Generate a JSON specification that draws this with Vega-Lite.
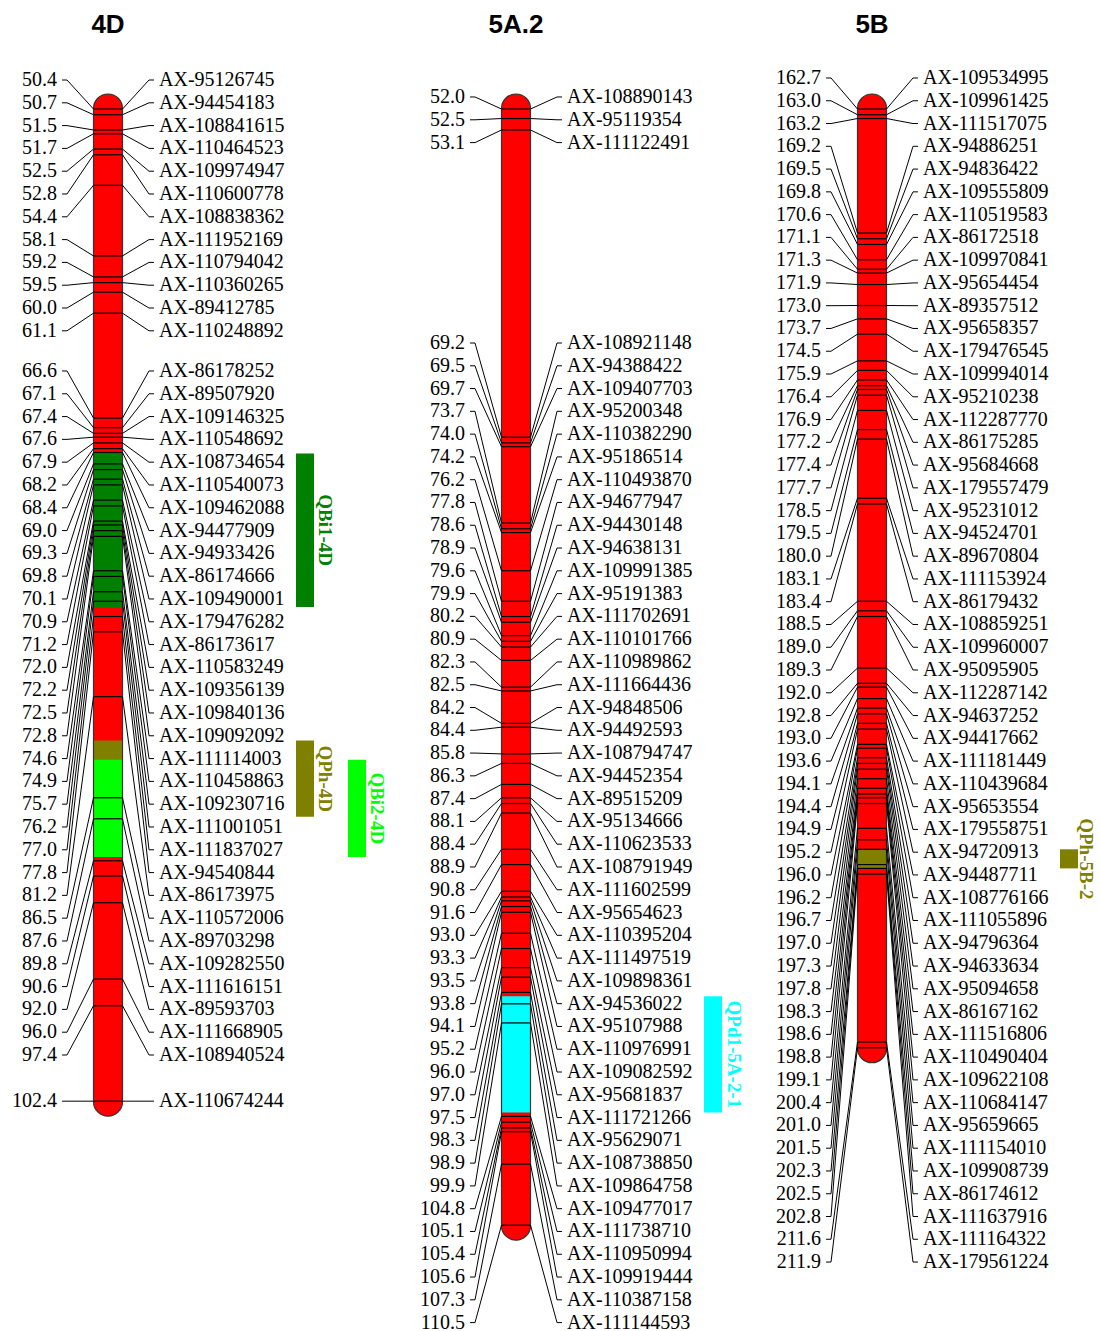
{
"$schema":"https://vega.github.io/schema/vega-lite/v6.json",
"padding":0,"spacing":0,"background":"white",
"config":{"view":{"stroke":null}},
"datasets":{
"markers":[
{"chr":"4D","pos":50.4,"name":"AX-95126745","lp":48.88},
{"chr":"4D","pos":50.7,"name":"AX-94454183","lp":50.075},
{"chr":"4D","pos":51.5,"name":"AX-108841615","lp":51.27},
{"chr":"4D","pos":51.7,"name":"AX-110464523","lp":52.465},
{"chr":"4D","pos":52.5,"name":"AX-109974947","lp":53.66},
{"chr":"4D","pos":52.8,"name":"AX-110600778","lp":54.855},
{"chr":"4D","pos":54.4,"name":"AX-108838362","lp":56.05},
{"chr":"4D","pos":58.1,"name":"AX-111952169","lp":57.245},
{"chr":"4D","pos":59.2,"name":"AX-110794042","lp":58.44},
{"chr":"4D","pos":59.5,"name":"AX-110360265","lp":59.635},
{"chr":"4D","pos":60.0,"name":"AX-89412785","lp":60.83},
{"chr":"4D","pos":61.1,"name":"AX-110248892","lp":62.025},
{"chr":"4D","pos":66.6,"name":"AX-86178252","lp":64.13},
{"chr":"4D","pos":67.1,"name":"AX-89507920","lp":65.325},
{"chr":"4D","pos":67.4,"name":"AX-109146325","lp":66.52},
{"chr":"4D","pos":67.6,"name":"AX-110548692","lp":67.715},
{"chr":"4D","pos":67.9,"name":"AX-108734654","lp":68.91},
{"chr":"4D","pos":68.2,"name":"AX-110540073","lp":70.105},
{"chr":"4D","pos":68.4,"name":"AX-109462088","lp":71.30},
{"chr":"4D","pos":69.0,"name":"AX-94477909","lp":72.495},
{"chr":"4D","pos":69.3,"name":"AX-94933426","lp":73.69},
{"chr":"4D","pos":69.8,"name":"AX-86174666","lp":74.885},
{"chr":"4D","pos":70.1,"name":"AX-109490001","lp":76.08},
{"chr":"4D","pos":70.9,"name":"AX-179476282","lp":77.275},
{"chr":"4D","pos":71.2,"name":"AX-86173617","lp":78.47},
{"chr":"4D","pos":72.0,"name":"AX-110583249","lp":79.665},
{"chr":"4D","pos":72.2,"name":"AX-109356139","lp":80.86},
{"chr":"4D","pos":72.5,"name":"AX-109840136","lp":82.055},
{"chr":"4D","pos":72.8,"name":"AX-109092092","lp":83.25},
{"chr":"4D","pos":74.6,"name":"AX-111114003","lp":84.445},
{"chr":"4D","pos":74.9,"name":"AX-110458863","lp":85.64},
{"chr":"4D","pos":75.7,"name":"AX-109230716","lp":86.835},
{"chr":"4D","pos":76.2,"name":"AX-111001051","lp":88.03},
{"chr":"4D","pos":77.0,"name":"AX-111837027","lp":89.225},
{"chr":"4D","pos":77.8,"name":"AX-94540844","lp":90.42},
{"chr":"4D","pos":81.2,"name":"AX-86173975","lp":91.615},
{"chr":"4D","pos":86.5,"name":"AX-110572006","lp":92.81},
{"chr":"4D","pos":87.6,"name":"AX-89703298","lp":94.005},
{"chr":"4D","pos":89.8,"name":"AX-109282550","lp":95.20},
{"chr":"4D","pos":90.6,"name":"AX-111616151","lp":96.395},
{"chr":"4D","pos":92.0,"name":"AX-89593703","lp":97.59},
{"chr":"4D","pos":96.0,"name":"AX-111668905","lp":98.785},
{"chr":"4D","pos":97.4,"name":"AX-108940524","lp":99.98},
{"chr":"4D","pos":102.4,"name":"AX-110674244","lp":102.4},
{"chr":"5A.2","pos":52.0,"name":"AX-108890143","lp":51.37},
{"chr":"5A.2","pos":52.5,"name":"AX-95119354","lp":52.566},
{"chr":"5A.2","pos":53.1,"name":"AX-111122491","lp":53.761},
{"chr":"5A.2","pos":69.2,"name":"AX-108921148","lp":64.264},
{"chr":"5A.2","pos":69.5,"name":"AX-94388422","lp":65.458},
{"chr":"5A.2","pos":69.7,"name":"AX-109407703","lp":66.652},
{"chr":"5A.2","pos":73.7,"name":"AX-95200348","lp":67.846},
{"chr":"5A.2","pos":74.0,"name":"AX-110382290","lp":69.04},
{"chr":"5A.2","pos":74.2,"name":"AX-95186514","lp":70.234},
{"chr":"5A.2","pos":76.2,"name":"AX-110493870","lp":71.428},
{"chr":"5A.2","pos":77.8,"name":"AX-94677947","lp":72.622},
{"chr":"5A.2","pos":78.6,"name":"AX-94430148","lp":73.816},
{"chr":"5A.2","pos":78.9,"name":"AX-94638131","lp":75.01},
{"chr":"5A.2","pos":79.6,"name":"AX-109991385","lp":76.204},
{"chr":"5A.2","pos":79.9,"name":"AX-95191383","lp":77.398},
{"chr":"5A.2","pos":80.2,"name":"AX-111702691","lp":78.592},
{"chr":"5A.2","pos":80.9,"name":"AX-110101766","lp":79.786},
{"chr":"5A.2","pos":82.3,"name":"AX-110989862","lp":80.98},
{"chr":"5A.2","pos":82.5,"name":"AX-111664436","lp":82.174},
{"chr":"5A.2","pos":84.2,"name":"AX-94848506","lp":83.368},
{"chr":"5A.2","pos":84.4,"name":"AX-94492593","lp":84.562},
{"chr":"5A.2","pos":85.8,"name":"AX-108794747","lp":85.756},
{"chr":"5A.2","pos":86.3,"name":"AX-94452354","lp":86.95},
{"chr":"5A.2","pos":87.4,"name":"AX-89515209","lp":88.144},
{"chr":"5A.2","pos":88.1,"name":"AX-95134666","lp":89.338},
{"chr":"5A.2","pos":88.4,"name":"AX-110623533","lp":90.532},
{"chr":"5A.2","pos":88.9,"name":"AX-108791949","lp":91.726},
{"chr":"5A.2","pos":90.8,"name":"AX-111602599","lp":92.92},
{"chr":"5A.2","pos":91.6,"name":"AX-95654623","lp":94.114},
{"chr":"5A.2","pos":93.0,"name":"AX-110395204","lp":95.308},
{"chr":"5A.2","pos":93.3,"name":"AX-111497519","lp":96.502},
{"chr":"5A.2","pos":93.5,"name":"AX-109898361","lp":97.696},
{"chr":"5A.2","pos":93.8,"name":"AX-94536022","lp":98.89},
{"chr":"5A.2","pos":94.1,"name":"AX-95107988","lp":100.084},
{"chr":"5A.2","pos":95.2,"name":"AX-110976991","lp":101.278},
{"chr":"5A.2","pos":96.0,"name":"AX-109082592","lp":102.472},
{"chr":"5A.2","pos":97.0,"name":"AX-95681837","lp":103.666},
{"chr":"5A.2","pos":97.5,"name":"AX-111721266","lp":104.86},
{"chr":"5A.2","pos":98.3,"name":"AX-95629071","lp":106.054},
{"chr":"5A.2","pos":98.9,"name":"AX-108738850","lp":107.248},
{"chr":"5A.2","pos":99.9,"name":"AX-109864758","lp":108.442},
{"chr":"5A.2","pos":104.8,"name":"AX-109477017","lp":109.636},
{"chr":"5A.2","pos":105.1,"name":"AX-111738710","lp":110.83},
{"chr":"5A.2","pos":105.4,"name":"AX-110950994","lp":112.024},
{"chr":"5A.2","pos":105.6,"name":"AX-109919444","lp":113.218},
{"chr":"5A.2","pos":107.3,"name":"AX-110387158","lp":114.412},
{"chr":"5A.2","pos":110.5,"name":"AX-111144593","lp":115.606},
{"chr":"5B","pos":162.7,"name":"AX-109534995","lp":161.075},
{"chr":"5B","pos":163.0,"name":"AX-109961425","lp":162.268},
{"chr":"5B","pos":163.2,"name":"AX-111517075","lp":163.462},
{"chr":"5B","pos":169.2,"name":"AX-94886251","lp":164.655},
{"chr":"5B","pos":169.5,"name":"AX-94836422","lp":165.849},
{"chr":"5B","pos":169.8,"name":"AX-109555809","lp":167.042},
{"chr":"5B","pos":170.6,"name":"AX-110519583","lp":168.235},
{"chr":"5B","pos":171.1,"name":"AX-86172518","lp":169.429},
{"chr":"5B","pos":171.3,"name":"AX-109970841","lp":170.622},
{"chr":"5B","pos":171.9,"name":"AX-95654454","lp":171.816},
{"chr":"5B","pos":173.0,"name":"AX-89357512","lp":173.009},
{"chr":"5B","pos":173.7,"name":"AX-95658357","lp":174.202},
{"chr":"5B","pos":174.5,"name":"AX-179476545","lp":175.396},
{"chr":"5B","pos":175.9,"name":"AX-109994014","lp":176.589},
{"chr":"5B","pos":176.4,"name":"AX-95210238","lp":177.783},
{"chr":"5B","pos":176.9,"name":"AX-112287770","lp":178.976},
{"chr":"5B","pos":177.2,"name":"AX-86175285","lp":180.169},
{"chr":"5B","pos":177.4,"name":"AX-95684668","lp":181.363},
{"chr":"5B","pos":177.7,"name":"AX-179557479","lp":182.556},
{"chr":"5B","pos":178.5,"name":"AX-95231012","lp":183.750},
{"chr":"5B","pos":179.5,"name":"AX-94524701","lp":184.943},
{"chr":"5B","pos":180.0,"name":"AX-89670804","lp":186.136},
{"chr":"5B","pos":183.1,"name":"AX-111153924","lp":187.330},
{"chr":"5B","pos":183.4,"name":"AX-86179432","lp":188.523},
{"chr":"5B","pos":188.5,"name":"AX-108859251","lp":189.717},
{"chr":"5B","pos":189.0,"name":"AX-109960007","lp":190.910},
{"chr":"5B","pos":189.3,"name":"AX-95095905","lp":192.103},
{"chr":"5B","pos":192.0,"name":"AX-112287142","lp":193.297},
{"chr":"5B","pos":192.8,"name":"AX-94637252","lp":194.490},
{"chr":"5B","pos":193.0,"name":"AX-94417662","lp":195.684},
{"chr":"5B","pos":193.6,"name":"AX-111181449","lp":196.877},
{"chr":"5B","pos":194.1,"name":"AX-110439684","lp":198.070},
{"chr":"5B","pos":194.4,"name":"AX-95653554","lp":199.264},
{"chr":"5B","pos":194.9,"name":"AX-179558751","lp":200.457},
{"chr":"5B","pos":195.2,"name":"AX-94720913","lp":201.651},
{"chr":"5B","pos":196.0,"name":"AX-94487711","lp":202.844},
{"chr":"5B","pos":196.2,"name":"AX-108776166","lp":204.037},
{"chr":"5B","pos":196.7,"name":"AX-111055896","lp":205.231},
{"chr":"5B","pos":197.0,"name":"AX-94796364","lp":206.424},
{"chr":"5B","pos":197.3,"name":"AX-94633634","lp":207.618},
{"chr":"5B","pos":197.8,"name":"AX-95094658","lp":208.811},
{"chr":"5B","pos":198.3,"name":"AX-86167162","lp":210.004},
{"chr":"5B","pos":198.6,"name":"AX-111516806","lp":211.198},
{"chr":"5B","pos":198.8,"name":"AX-110490404","lp":212.391},
{"chr":"5B","pos":199.1,"name":"AX-109622108","lp":213.585},
{"chr":"5B","pos":200.4,"name":"AX-110684147","lp":214.778},
{"chr":"5B","pos":201.0,"name":"AX-95659665","lp":215.971},
{"chr":"5B","pos":201.5,"name":"AX-111154010","lp":217.165},
{"chr":"5B","pos":202.3,"name":"AX-109908739","lp":218.358},
{"chr":"5B","pos":202.5,"name":"AX-86174612","lp":219.552},
{"chr":"5B","pos":202.8,"name":"AX-111637916","lp":220.745},
{"chr":"5B","pos":211.6,"name":"AX-111164322","lp":221.938},
{"chr":"5B","pos":211.9,"name":"AX-179561224","lp":223.132}
],
"qtl":[
{"chr":"4D","qtl":"QBi1-4D","from":68.45,"to":76.5,"lane":1},
{"chr":"4D","qtl":"QPh-4D","from":83.5,"to":87.5,"lane":1},
{"chr":"4D","qtl":"QBi2-4D","from":84.5,"to":89.6,"lane":2},
{"chr":"5A.2","qtl":"QPd1-5A-2-1","from":98.5,"to":104.6,"lane":1},
{"chr":"5B","qtl":"QPh-5B-2","from":201.5,"to":202.5,"lane":1}
]
},
"hconcat":[
{
"width":400,"height":1331,
"data":{"name":"markers"},
"transform":[{"filter":"datum.chr === '4D'"}],
"layer":[
{"transform":[{"aggregate":[{"op":"min","field":"pos","as":"lo"},{"op":"max","field":"pos","as":"hi"}],"groupby":["chr"]}],
 "mark":{"type":"rect","fill":"#ff0000","cornerRadius":14.5,"yOffset":-15,"y2Offset":15},
 "encoding":{"x":{"datum":-14.5,"type":"quantitative","scale":{"domain":[-108,292]},"axis":null},"x2":{"datum":14.5},
 "y":{"field":"lo","type":"quantitative","scale":{"domain":[44.687,114.446],"reverse":true,"nice":false,"zero":false},"axis":null},"y2":{"field":"hi"}}},
{"data":{"name":"qtl"},"transform":[{"filter":"datum.chr === '4D'"}],
 "mark":{"type":"rect"},
 "encoding":{"x":{"datum":-14.5,"type":"quantitative","scale":{"domain":[-108,292]},"axis":null},"x2":{"datum":14.5},
 "y":{"field":"from","type":"quantitative","scale":{"domain":[44.687,114.446],"reverse":true,"nice":false,"zero":false},"axis":null},"y2":{"field":"to"},
 "color":{"field":"qtl","type":"nominal","scale":{"domain":["QBi1-4D","QPh-4D","QBi2-4D","QPd1-5A-2-1","QPh-5B-2"],"range":["#008000","#808000","#00ff00","#00ffff","#808000"]},"legend":null}}},
{"mark":{"type":"rule","color":"#000000","strokeWidth":1.2},
 "encoding":{"x":{"datum":-14.5,"type":"quantitative","scale":{"domain":[-108,292]},"axis":null},"x2":{"datum":14.5},
 "y":{"field":"pos","type":"quantitative","scale":{"domain":[44.687,114.446],"reverse":true,"nice":false,"zero":false},"axis":null}}},
{"transform":[{"aggregate":[{"op":"min","field":"pos","as":"lo"},{"op":"max","field":"pos","as":"hi"}],"groupby":["chr"]}],
 "mark":{"type":"rect","fillOpacity":0,"stroke":"#333333","strokeWidth":1.2,"cornerRadius":14.5,"yOffset":-15,"y2Offset":15},
 "encoding":{"x":{"datum":-14.5,"type":"quantitative","scale":{"domain":[-108,292]},"axis":null},"x2":{"datum":14.5},
 "y":{"field":"lo","type":"quantitative","scale":{"domain":[44.687,114.446],"reverse":true,"nice":false,"zero":false},"axis":null},"y2":{"field":"hi"}}},
{"mark":{"type":"rule","color":"#000000","strokeWidth":1},
 "encoding":{"x":{"datum":-46,"type":"quantitative","scale":{"domain":[-108,292]},"axis":null},"x2":{"datum":-41},
 "y":{"field":"lp","type":"quantitative","scale":{"domain":[44.687,114.446],"reverse":true,"nice":false,"zero":false},"axis":null}}},
{"mark":{"type":"rule","color":"#000000","strokeWidth":1},
 "encoding":{"x":{"datum":-41,"type":"quantitative","scale":{"domain":[-108,292]},"axis":null},"x2":{"datum":-14.5},
 "y":{"field":"lp","type":"quantitative","scale":{"domain":[44.687,114.446],"reverse":true,"nice":false,"zero":false},"axis":null},"y2":{"field":"pos"}}},
{"mark":{"type":"rule","color":"#000000","strokeWidth":1},
 "encoding":{"x":{"datum":14.5,"type":"quantitative","scale":{"domain":[-108,292]},"axis":null},"x2":{"datum":41},
 "y":{"field":"pos","type":"quantitative","scale":{"domain":[44.687,114.446],"reverse":true,"nice":false,"zero":false},"axis":null},"y2":{"field":"lp"}}},
{"mark":{"type":"rule","color":"#000000","strokeWidth":1},
 "encoding":{"x":{"datum":41,"type":"quantitative","scale":{"domain":[-108,292]},"axis":null},"x2":{"datum":46},
 "y":{"field":"lp","type":"quantitative","scale":{"domain":[44.687,114.446],"reverse":true,"nice":false,"zero":false},"axis":null}}},
{"mark":{"type":"text","align":"right","baseline":"middle","font":"Liberation Serif","fontSize":20,"color":"#000000"},
 "encoding":{"x":{"datum":-51,"type":"quantitative","scale":{"domain":[-108,292]},"axis":null},
 "y":{"field":"lp","type":"quantitative","scale":{"domain":[44.687,114.446],"reverse":true,"nice":false,"zero":false},"axis":null},
 "text":{"field":"pos","type":"quantitative","format":".1f"}}},
{"mark":{"type":"text","align":"left","baseline":"middle","font":"Liberation Serif","fontSize":20,"color":"#000000"},
 "encoding":{"x":{"datum":51,"type":"quantitative","scale":{"domain":[-108,292]},"axis":null},
 "y":{"field":"lp","type":"quantitative","scale":{"domain":[44.687,114.446],"reverse":true,"nice":false,"zero":false},"axis":null},
 "text":{"field":"name","type":"nominal"}}},
{"data":{"name":"qtl"},"transform":[{"filter":"datum.chr === '4D' && datum.lane === 1"}],
 "mark":{"type":"rect"},
 "encoding":{"x":{"datum":188,"type":"quantitative","scale":{"domain":[-108,292]},"axis":null},"x2":{"datum":206},
 "y":{"field":"from","type":"quantitative","scale":{"domain":[44.687,114.446],"reverse":true,"nice":false,"zero":false},"axis":null},"y2":{"field":"to"},
 "color":{"field":"qtl","type":"nominal","scale":{"domain":["QBi1-4D","QPh-4D","QBi2-4D","QPd1-5A-2-1","QPh-5B-2"],"range":["#008000","#808000","#00ff00","#00ffff","#808000"]},"legend":null}}},
{"data":{"name":"qtl"},"transform":[{"filter":"datum.chr === '4D' && datum.lane === 2"}],
 "mark":{"type":"rect"},
 "encoding":{"x":{"datum":240,"type":"quantitative","scale":{"domain":[-108,292]},"axis":null},"x2":{"datum":258},
 "y":{"field":"from","type":"quantitative","scale":{"domain":[44.687,114.446],"reverse":true,"nice":false,"zero":false},"axis":null},"y2":{"field":"to"},
 "color":{"field":"qtl","type":"nominal","scale":{"domain":["QBi1-4D","QPh-4D","QBi2-4D","QPd1-5A-2-1","QPh-5B-2"],"range":["#008000","#808000","#00ff00","#00ffff","#808000"]},"legend":null}}},
{"data":{"name":"qtl"},"transform":[{"filter":"datum.chr === '4D' && datum.lane === 1"},{"calculate":"(datum.from + datum.to) / 2","as":"mid"}],
 "mark":{"type":"text","angle":90,"align":"center","baseline":"middle","font":"Liberation Serif","fontWeight":"bold","fontSize":19},
 "encoding":{"x":{"datum":217,"type":"quantitative","scale":{"domain":[-108,292]},"axis":null},
 "y":{"field":"mid","type":"quantitative","scale":{"domain":[44.687,114.446],"reverse":true,"nice":false,"zero":false},"axis":null},
 "text":{"field":"qtl","type":"nominal"},
 "color":{"field":"qtl","type":"nominal","scale":{"domain":["QBi1-4D","QPh-4D","QBi2-4D","QPd1-5A-2-1","QPh-5B-2"],"range":["#008000","#808000","#00ff00","#00ffff","#808000"]},"legend":null}}},
{"data":{"name":"qtl"},"transform":[{"filter":"datum.chr === '4D' && datum.lane === 2"},{"calculate":"(datum.from + datum.to) / 2","as":"mid"}],
 "mark":{"type":"text","angle":90,"align":"center","baseline":"middle","font":"Liberation Serif","fontWeight":"bold","fontSize":19},
 "encoding":{"x":{"datum":269,"type":"quantitative","scale":{"domain":[-108,292]},"axis":null},
 "y":{"field":"mid","type":"quantitative","scale":{"domain":[44.687,114.446],"reverse":true,"nice":false,"zero":false},"axis":null},
 "text":{"field":"qtl","type":"nominal"},
 "color":{"field":"qtl","type":"nominal","scale":{"domain":["QBi1-4D","QPh-4D","QBi2-4D","QPd1-5A-2-1","QPh-5B-2"],"range":["#008000","#808000","#00ff00","#00ffff","#808000"]},"legend":null}}},
{"transform":[{"aggregate":[{"op":"min","field":"pos","as":"lo"}],"groupby":["chr"]}],
 "mark":{"type":"text","align":"center","baseline":"middle","font":"Liberation Sans","fontWeight":"bold","fontSize":26,"yOffset":-84,"color":"#000000"},
 "encoding":{"x":{"datum":0,"type":"quantitative","scale":{"domain":[-108,292]},"axis":null},
 "y":{"field":"lo","type":"quantitative","scale":{"domain":[44.687,114.446],"reverse":true,"nice":false,"zero":false},"axis":null},
 "text":{"field":"chr","type":"nominal"}}}
]
},
{
"width":360,"height":1331,
"data":{"name":"markers"},
"transform":[{"filter":"datum.chr === '5A.2'"}],
"layer":[
{"transform":[{"aggregate":[{"op":"min","field":"pos","as":"lo"},{"op":"max","field":"pos","as":"hi"}],"groupby":["chr"]}],
 "mark":{"type":"rect","fill":"#ff0000","cornerRadius":14.5,"yOffset":-15,"y2Offset":15},
 "encoding":{"x":{"datum":-14.5,"type":"quantitative","scale":{"domain":[-116,244]},"axis":null},"x2":{"datum":14.5},
 "y":{"field":"lo","type":"quantitative","scale":{"domain":[46.287,116.046],"reverse":true,"nice":false,"zero":false},"axis":null},"y2":{"field":"hi"}}},
{"data":{"name":"qtl"},"transform":[{"filter":"datum.chr === '5A.2'"}],
 "mark":{"type":"rect"},
 "encoding":{"x":{"datum":-14.5,"type":"quantitative","scale":{"domain":[-116,244]},"axis":null},"x2":{"datum":14.5},
 "y":{"field":"from","type":"quantitative","scale":{"domain":[46.287,116.046],"reverse":true,"nice":false,"zero":false},"axis":null},"y2":{"field":"to"},
 "color":{"field":"qtl","type":"nominal","scale":{"domain":["QBi1-4D","QPh-4D","QBi2-4D","QPd1-5A-2-1","QPh-5B-2"],"range":["#008000","#808000","#00ff00","#00ffff","#808000"]},"legend":null}}},
{"mark":{"type":"rule","color":"#000000","strokeWidth":1.2},
 "encoding":{"x":{"datum":-14.5,"type":"quantitative","scale":{"domain":[-116,244]},"axis":null},"x2":{"datum":14.5},
 "y":{"field":"pos","type":"quantitative","scale":{"domain":[46.287,116.046],"reverse":true,"nice":false,"zero":false},"axis":null}}},
{"transform":[{"aggregate":[{"op":"min","field":"pos","as":"lo"},{"op":"max","field":"pos","as":"hi"}],"groupby":["chr"]}],
 "mark":{"type":"rect","fillOpacity":0,"stroke":"#333333","strokeWidth":1.2,"cornerRadius":14.5,"yOffset":-15,"y2Offset":15},
 "encoding":{"x":{"datum":-14.5,"type":"quantitative","scale":{"domain":[-116,244]},"axis":null},"x2":{"datum":14.5},
 "y":{"field":"lo","type":"quantitative","scale":{"domain":[46.287,116.046],"reverse":true,"nice":false,"zero":false},"axis":null},"y2":{"field":"hi"}}},
{"mark":{"type":"rule","color":"#000000","strokeWidth":1},
 "encoding":{"x":{"datum":-46,"type":"quantitative","scale":{"domain":[-116,244]},"axis":null},"x2":{"datum":-41},
 "y":{"field":"lp","type":"quantitative","scale":{"domain":[46.287,116.046],"reverse":true,"nice":false,"zero":false},"axis":null}}},
{"mark":{"type":"rule","color":"#000000","strokeWidth":1},
 "encoding":{"x":{"datum":-41,"type":"quantitative","scale":{"domain":[-116,244]},"axis":null},"x2":{"datum":-14.5},
 "y":{"field":"lp","type":"quantitative","scale":{"domain":[46.287,116.046],"reverse":true,"nice":false,"zero":false},"axis":null},"y2":{"field":"pos"}}},
{"mark":{"type":"rule","color":"#000000","strokeWidth":1},
 "encoding":{"x":{"datum":14.5,"type":"quantitative","scale":{"domain":[-116,244]},"axis":null},"x2":{"datum":41},
 "y":{"field":"pos","type":"quantitative","scale":{"domain":[46.287,116.046],"reverse":true,"nice":false,"zero":false},"axis":null},"y2":{"field":"lp"}}},
{"mark":{"type":"rule","color":"#000000","strokeWidth":1},
 "encoding":{"x":{"datum":41,"type":"quantitative","scale":{"domain":[-116,244]},"axis":null},"x2":{"datum":46},
 "y":{"field":"lp","type":"quantitative","scale":{"domain":[46.287,116.046],"reverse":true,"nice":false,"zero":false},"axis":null}}},
{"mark":{"type":"text","align":"right","baseline":"middle","font":"Liberation Serif","fontSize":20,"color":"#000000"},
 "encoding":{"x":{"datum":-51,"type":"quantitative","scale":{"domain":[-116,244]},"axis":null},
 "y":{"field":"lp","type":"quantitative","scale":{"domain":[46.287,116.046],"reverse":true,"nice":false,"zero":false},"axis":null},
 "text":{"field":"pos","type":"quantitative","format":".1f"}}},
{"mark":{"type":"text","align":"left","baseline":"middle","font":"Liberation Serif","fontSize":20,"color":"#000000"},
 "encoding":{"x":{"datum":51,"type":"quantitative","scale":{"domain":[-116,244]},"axis":null},
 "y":{"field":"lp","type":"quantitative","scale":{"domain":[46.287,116.046],"reverse":true,"nice":false,"zero":false},"axis":null},
 "text":{"field":"name","type":"nominal"}}},
{"data":{"name":"qtl"},"transform":[{"filter":"datum.chr === '5A.2' && datum.lane === 1"}],
 "mark":{"type":"rect"},
 "encoding":{"x":{"datum":188,"type":"quantitative","scale":{"domain":[-116,244]},"axis":null},"x2":{"datum":206},
 "y":{"field":"from","type":"quantitative","scale":{"domain":[46.287,116.046],"reverse":true,"nice":false,"zero":false},"axis":null},"y2":{"field":"to"},
 "color":{"field":"qtl","type":"nominal","scale":{"domain":["QBi1-4D","QPh-4D","QBi2-4D","QPd1-5A-2-1","QPh-5B-2"],"range":["#008000","#808000","#00ff00","#00ffff","#808000"]},"legend":null}}},
{"data":{"name":"qtl"},"transform":[{"filter":"datum.chr === '5A.2' && datum.lane === 1"},{"calculate":"(datum.from + datum.to) / 2","as":"mid"}],
 "mark":{"type":"text","angle":90,"align":"center","baseline":"middle","font":"Liberation Serif","fontWeight":"bold","fontSize":19},
 "encoding":{"x":{"datum":218,"type":"quantitative","scale":{"domain":[-116,244]},"axis":null},
 "y":{"field":"mid","type":"quantitative","scale":{"domain":[46.287,116.046],"reverse":true,"nice":false,"zero":false},"axis":null},
 "text":{"field":"qtl","type":"nominal"},
 "color":{"field":"qtl","type":"nominal","scale":{"domain":["QBi1-4D","QPh-4D","QBi2-4D","QPd1-5A-2-1","QPh-5B-2"],"range":["#008000","#808000","#00ff00","#00ffff","#808000"]},"legend":null}}},
{"transform":[{"aggregate":[{"op":"min","field":"pos","as":"lo"}],"groupby":["chr"]}],
 "mark":{"type":"text","align":"center","baseline":"middle","font":"Liberation Sans","fontWeight":"bold","fontSize":26,"yOffset":-84,"color":"#000000"},
 "encoding":{"x":{"datum":0,"type":"quantitative","scale":{"domain":[-116,244]},"axis":null},
 "y":{"field":"lo","type":"quantitative","scale":{"domain":[46.287,116.046],"reverse":true,"nice":false,"zero":false},"axis":null},
 "text":{"field":"chr","type":"nominal"}}}
]
},
{
"width":340,"height":1331,
"data":{"name":"markers"},
"transform":[{"filter":"datum.chr === '5B'"}],
"layer":[
{"transform":[{"aggregate":[{"op":"min","field":"pos","as":"lo"},{"op":"max","field":"pos","as":"hi"}],"groupby":["chr"]}],
 "mark":{"type":"rect","fill":"#ff0000","cornerRadius":14.5,"yOffset":-15,"y2Offset":15},
 "encoding":{"x":{"datum":-14.5,"type":"quantitative","scale":{"domain":[-112,228]},"axis":null},"x2":{"datum":14.5},
 "y":{"field":"lo","type":"quantitative","scale":{"domain":[156.987,226.746],"reverse":true,"nice":false,"zero":false},"axis":null},"y2":{"field":"hi"}}},
{"data":{"name":"qtl"},"transform":[{"filter":"datum.chr === '5B'"}],
 "mark":{"type":"rect"},
 "encoding":{"x":{"datum":-14.5,"type":"quantitative","scale":{"domain":[-112,228]},"axis":null},"x2":{"datum":14.5},
 "y":{"field":"from","type":"quantitative","scale":{"domain":[156.987,226.746],"reverse":true,"nice":false,"zero":false},"axis":null},"y2":{"field":"to"},
 "color":{"field":"qtl","type":"nominal","scale":{"domain":["QBi1-4D","QPh-4D","QBi2-4D","QPd1-5A-2-1","QPh-5B-2"],"range":["#008000","#808000","#00ff00","#00ffff","#808000"]},"legend":null}}},
{"mark":{"type":"rule","color":"#000000","strokeWidth":1.2},
 "encoding":{"x":{"datum":-14.5,"type":"quantitative","scale":{"domain":[-112,228]},"axis":null},"x2":{"datum":14.5},
 "y":{"field":"pos","type":"quantitative","scale":{"domain":[156.987,226.746],"reverse":true,"nice":false,"zero":false},"axis":null}}},
{"transform":[{"aggregate":[{"op":"min","field":"pos","as":"lo"},{"op":"max","field":"pos","as":"hi"}],"groupby":["chr"]}],
 "mark":{"type":"rect","fillOpacity":0,"stroke":"#333333","strokeWidth":1.2,"cornerRadius":14.5,"yOffset":-15,"y2Offset":15},
 "encoding":{"x":{"datum":-14.5,"type":"quantitative","scale":{"domain":[-112,228]},"axis":null},"x2":{"datum":14.5},
 "y":{"field":"lo","type":"quantitative","scale":{"domain":[156.987,226.746],"reverse":true,"nice":false,"zero":false},"axis":null},"y2":{"field":"hi"}}},
{"mark":{"type":"rule","color":"#000000","strokeWidth":1},
 "encoding":{"x":{"datum":-46,"type":"quantitative","scale":{"domain":[-112,228]},"axis":null},"x2":{"datum":-41},
 "y":{"field":"lp","type":"quantitative","scale":{"domain":[156.987,226.746],"reverse":true,"nice":false,"zero":false},"axis":null}}},
{"mark":{"type":"rule","color":"#000000","strokeWidth":1},
 "encoding":{"x":{"datum":-41,"type":"quantitative","scale":{"domain":[-112,228]},"axis":null},"x2":{"datum":-14.5},
 "y":{"field":"lp","type":"quantitative","scale":{"domain":[156.987,226.746],"reverse":true,"nice":false,"zero":false},"axis":null},"y2":{"field":"pos"}}},
{"mark":{"type":"rule","color":"#000000","strokeWidth":1},
 "encoding":{"x":{"datum":14.5,"type":"quantitative","scale":{"domain":[-112,228]},"axis":null},"x2":{"datum":41},
 "y":{"field":"pos","type":"quantitative","scale":{"domain":[156.987,226.746],"reverse":true,"nice":false,"zero":false},"axis":null},"y2":{"field":"lp"}}},
{"mark":{"type":"rule","color":"#000000","strokeWidth":1},
 "encoding":{"x":{"datum":41,"type":"quantitative","scale":{"domain":[-112,228]},"axis":null},"x2":{"datum":46},
 "y":{"field":"lp","type":"quantitative","scale":{"domain":[156.987,226.746],"reverse":true,"nice":false,"zero":false},"axis":null}}},
{"mark":{"type":"text","align":"right","baseline":"middle","font":"Liberation Serif","fontSize":20,"color":"#000000"},
 "encoding":{"x":{"datum":-51,"type":"quantitative","scale":{"domain":[-112,228]},"axis":null},
 "y":{"field":"lp","type":"quantitative","scale":{"domain":[156.987,226.746],"reverse":true,"nice":false,"zero":false},"axis":null},
 "text":{"field":"pos","type":"quantitative","format":".1f"}}},
{"mark":{"type":"text","align":"left","baseline":"middle","font":"Liberation Serif","fontSize":20,"color":"#000000"},
 "encoding":{"x":{"datum":51,"type":"quantitative","scale":{"domain":[-112,228]},"axis":null},
 "y":{"field":"lp","type":"quantitative","scale":{"domain":[156.987,226.746],"reverse":true,"nice":false,"zero":false},"axis":null},
 "text":{"field":"name","type":"nominal"}}},
{"data":{"name":"qtl"},"transform":[{"filter":"datum.chr === '5B' && datum.lane === 1"}],
 "mark":{"type":"rect"},
 "encoding":{"x":{"datum":188,"type":"quantitative","scale":{"domain":[-112,228]},"axis":null},"x2":{"datum":206},
 "y":{"field":"from","type":"quantitative","scale":{"domain":[156.987,226.746],"reverse":true,"nice":false,"zero":false},"axis":null},"y2":{"field":"to"},
 "color":{"field":"qtl","type":"nominal","scale":{"domain":["QBi1-4D","QPh-4D","QBi2-4D","QPd1-5A-2-1","QPh-5B-2"],"range":["#008000","#808000","#00ff00","#00ffff","#808000"]},"legend":null}}},
{"data":{"name":"qtl"},"transform":[{"filter":"datum.chr === '5B' && datum.lane === 1"},{"calculate":"(datum.from + datum.to) / 2","as":"mid"}],
 "mark":{"type":"text","angle":90,"align":"center","baseline":"middle","font":"Liberation Serif","fontWeight":"bold","fontSize":19},
 "encoding":{"x":{"datum":214,"type":"quantitative","scale":{"domain":[-112,228]},"axis":null},
 "y":{"field":"mid","type":"quantitative","scale":{"domain":[156.987,226.746],"reverse":true,"nice":false,"zero":false},"axis":null},
 "text":{"field":"qtl","type":"nominal"},
 "color":{"field":"qtl","type":"nominal","scale":{"domain":["QBi1-4D","QPh-4D","QBi2-4D","QPd1-5A-2-1","QPh-5B-2"],"range":["#008000","#808000","#00ff00","#00ffff","#808000"]},"legend":null}}},
{"transform":[{"aggregate":[{"op":"min","field":"pos","as":"lo"}],"groupby":["chr"]}],
 "mark":{"type":"text","align":"center","baseline":"middle","font":"Liberation Sans","fontWeight":"bold","fontSize":26,"yOffset":-84,"color":"#000000"},
 "encoding":{"x":{"datum":0,"type":"quantitative","scale":{"domain":[-112,228]},"axis":null},
 "y":{"field":"lo","type":"quantitative","scale":{"domain":[156.987,226.746],"reverse":true,"nice":false,"zero":false},"axis":null},
 "text":{"field":"chr","type":"nominal"}}}
]
}
]
}
